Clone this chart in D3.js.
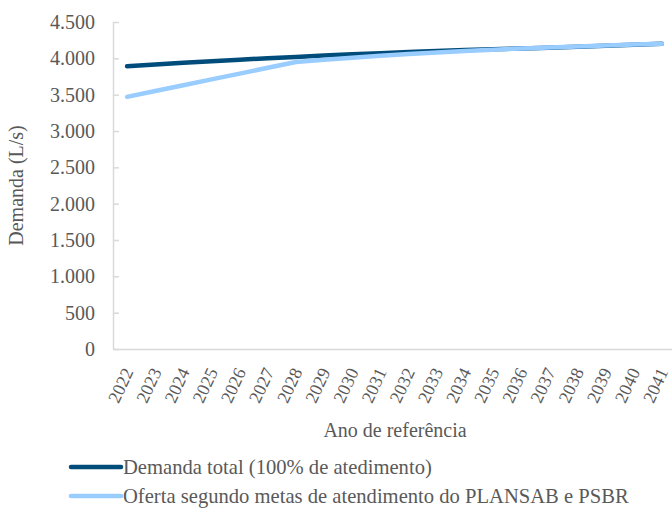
<!DOCTYPE html>
<html>
<head>
<meta charset="utf-8">
<script src="https://cdn.jsdelivr.net/npm/d3@7"></script>
<style>
  body { margin: 0; background: #fff; }
  svg text { font-family: "Liberation Serif", serif; fill: #595959; font-size: 20px; }
</style>
</head>
<body>
<div id="chart"></div>
<script>
const years = d3.range(2022, 2042).map(String);
const demanda = [3890, 3915, 3938, 3960, 3981, 4001, 4020, 4038, 4055, 4071,
                 4086, 4100, 4113, 4125, 4136, 4147, 4160, 4173, 4186, 4200];
const oferta = [3470, 3550, 3630, 3710, 3790, 3870, 3950, 3980, 4008, 4034,
                4058, 4080, 4100, 4118, 4135, 4150, 4164, 4177, 4189, 4200];
const yTicks = [0, 500, 1000, 1500, 2000, 2500, 3000, 3500, 4000, 4500];
const seriesNames = ["Demanda total (100% de atedimento)",
                     "Oferta segundo metas de atendimento do PLANSAB e PSBR"];

const width = 672, height = 508,
    margin = ({ top: 22, right: -4, bottom: 159, left: 113 });

const svg = d3.select("#chart")
    .append("svg")
    .attr("width", width)
    .attr("height", height);

const x = d3.scalePoint()
    .domain(years)
    .range([margin.left, width - margin.right])
    .padding(0.5);

const y = d3.scaleLinear()
    .domain([0, 4500])
    .range([height - margin.bottom, margin.top]);

const fmt = d => d3.format(",")(d).replace(/,/g, ".");

// y axis
const yAxis = svg.append("g")
    .attr("transform", `translate(${margin.left},0)`)
    .call(d3.axisRight(y).tickValues(yTicks).tickSize(6).tickFormat(""));
yAxis.selectAll("line").attr("stroke", "#d9d9d9").attr("stroke-width", 1.5);
yAxis.select(".domain").attr("stroke", "#d9d9d9").attr("stroke-width", 1.5)
    .attr("d", `M0.5,${y(4500)}V${y(0)}`);

svg.append("g")
    .selectAll("text")
    .data(yTicks)
    .join("text")
    .attr("x", margin.left - 18)
    .attr("y", d => y(d))
    .attr("dy", "0.35em")
    .attr("text-anchor", "end")
    .text(fmt);

// x axis
const xAxis = svg.append("g")
    .attr("transform", `translate(0,${y(0)})`)
    .call(d3.axisBottom(x).tickSize(0).tickFormat(""));
xAxis.select(".domain").attr("stroke", "#d9d9d9").attr("stroke-width", 1.5);

svg.append("g")
    .selectAll("text")
    .data(years)
    .join("text")
    .attr("transform", d => `translate(${x(d) + 1},${y(0) + 20}) rotate(-65)`)
    .attr("text-anchor", "end")
    .attr("dy", "0.35em")
    .style("font-size", "18px")
    .text(d => d);

// lines (second series drawn on top)
const line = d3.line()
    .x((d, i) => x(years[i]))
    .y(d => y(d));

const colors = ["#004c7a", "#99ccff"];

svg.selectAll(".series")
    .data([demanda, oferta])
    .join("path")
    .attr("class", "series")
    .attr("fill", "none")
    .attr("stroke", (d, i) => colors[i])
    .attr("stroke-width", 4.5)
    .attr("stroke-linecap", "round")
    .attr("stroke-linejoin", "round")
    .attr("d", line);

// axis titles
svg.append("text")
    .attr("x", 395)
    .attr("y", 437)
    .attr("text-anchor", "middle")
    .text("Ano de referência");

svg.append("text")
    .attr("transform", `translate(23,${(y(0) + y(4500)) / 2}) rotate(-90)`)
    .attr("text-anchor", "middle")
    .text("Demanda (L/s)");

// legend
const legend = svg.append("g")
    .selectAll("g")
    .data(seriesNames)
    .join("g")
    .attr("transform", (d, i) => `translate(71,${467 + i * 29})`);

legend.append("line")
    .attr("x1", 0).attr("x2", 50)
    .attr("stroke", (d, i) => colors[i])
    .attr("stroke-width", 4.5)
    .attr("stroke-linecap", "round");

legend.append("text")
    .attr("x", 52)
    .attr("dy", "0.35em")
    .style("font-size", "20.6px")
    .text(d => d);
</script>
</body>
</html>
